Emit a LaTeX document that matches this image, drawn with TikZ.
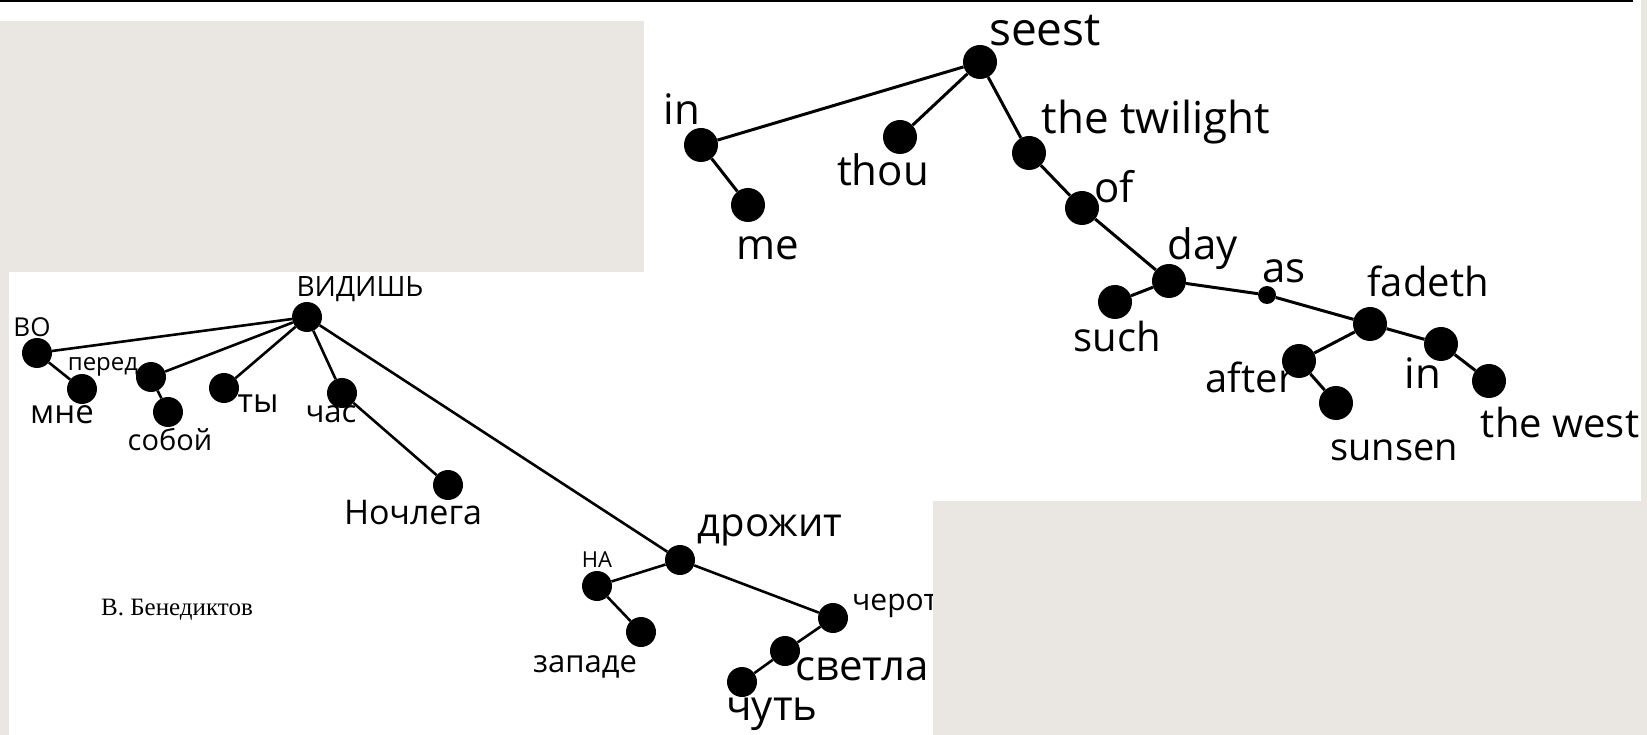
\documentclass[tikz,border=0pt]{standalone}
\usepackage{fontspec}
\setmainfont{Open Sans}
\newfontfamily\printfont{Liberation Serif}
\definecolor{paper}{RGB}{234,230,226}

\begin{document}
\begin{tikzpicture}[x=1pt, y=-1pt,
		dot/.style={circle, fill=black, inner sep=0pt, minimum size=34pt},
		rudot/.style={circle, fill=black, inner sep=0pt, minimum size=30pt},
		smalldot/.style={circle, fill=black, inner sep=0pt, minimum size=18pt},
		word/.style={inner sep=0pt, font=\fontsize{#1}{#1}\selectfont},
		word/.default=40,
		edge/.style={line width=3pt}
	]
	\useasboundingbox (0,0) rectangle (1647,735);

	% scanned page
	\fill[paper] (0,0) rectangle (1647,735);
	\fill[white] (0,0) rectangle (1641,21);
	\fill[white] (644,0) rectangle (1641,501);
	\fill[white] (9,272) rectangle (933,735);
	\draw[line width=2pt] (0,1) -- (1633,1);

	% english tree
	\node[dot] (seest) at (980,62) {};
	\node[dot] (in) at (701,145) {};
	\node[dot] (me) at (748,205) {};
	\node[dot] (thou) at (900,137) {};
	\node[dot] (twilight) at (1029,153) {};
	\node[dot] (of) at (1082,208) {};
	\node[dot] (day) at (1169,281) {};
	\node[dot] (such) at (1115,302) {};
	\node[smalldot] (as) at (1267,295) {};
	\node[dot] (fadeth) at (1370,324) {};
	\node[dot] (after) at (1299,361) {};
	\node[dot] (sunsen) at (1336,403) {};
	\node[dot] (inwest) at (1441,344) {};
	\node[dot] (west) at (1489,381) {};

	\node[word=46] (seestL) at (1045,31) {seest};
	\node[word=42] (inL) at (682,109) {in};
	\node[word=42] (meL) at (768,248) {me};
	\node[word=42] (thouL) at (883,170) {thou};
	\node[word=44] (twilightL) at (1156,122) {the twilight};
	\node[word=42] (ofL) at (1114,187) {of};
	\node[word=42] (dayL) at (1203,249) {day};
	\node[word=42] (asL) at (1284,271) {as};
	\node[word=40] (fadethL) at (1428,281) {fadeth};
	\node[word=40] (suchL) at (1117,337) {such};
	\node[word=40] (afterL) at (1250,377) {after};
	\node[word=42] (inwestL) at (1423,373) {in};
	\node[word=38] (sunsenL) at (1394,450) {sunsen};
	\node[word=40] (westL) at (1560,422) {the west};

	\foreach \i/\j in {seest/in, seest/thou, seest/twilight, in/me, twilight/of, of/day,
		day/such, day/as, as/fadeth, fadeth/after, after/sunsen, fadeth/inwest, inwest/west}
		\draw[edge] (\i) -- (\j);

	% russian tree
	\node[rudot] (vidish) at (307,317) {};
	\node[rudot] (vo) at (37,353) {};
	\node[rudot] (mne) at (82,389) {};
	\node[rudot] (pered) at (151,377) {};
	\node[rudot] (soboj) at (168,412) {};
	\node[rudot] (ty) at (224,388) {};
	\node[rudot] (chas) at (342,393) {};
	\node[rudot] (nochlega) at (448,485) {};
	\node[rudot] (drozhit) at (680,560) {};
	\node[rudot] (na) at (597,586) {};
	\node[rudot] (zapade) at (641,632) {};
	\node[rudot] (cherote) at (833,618) {};
	\node[rudot] (svetla) at (785,651) {};
	\node[rudot] (chut) at (742,682) {};

	\node[word=28] (vidishL) at (360,289) {ВИДИШЬ};
	\node[word=26] (voL) at (32,327) {ВО};
	\node[word=33] (mneL) at (62,415) {мне};
	\node[word=24] (peredL) at (103,367) {перед};
	\node[word=29] (sobojL) at (170,440) {собой};
	\node[word=33] (tyL) at (258,404) {ты};
	\node[word=31] (chasL) at (331,414) {час};
	\node[word=34] (nochlegaL) at (413,513) {Ночлега};
	\node[word=40] (drozhitL) at (770,530) {дрожит};
	\node[word=22] (naL) at (597,560) {НА};
	\node[word=31] (zapadeL) at (585,667) {западе};
	\node[word=30, anchor=west] (cheroteL) at (852,606) {чероте};
	\node[word=42, anchor=west] (svetlaL) at (795,669) {светла};
	\node[word=42] (chutL) at (772,714) {чуть};

	\node[inner sep=0pt, font=\printfont\fontsize{25}{25}\selectfont] (author) at (177,610) {В. Бенедиктов};

	\foreach \i/\j in {vidish/vo, vidish/pered, vidish/ty, vidish/chas, vidish/drozhit, vo/mne,
		pered/soboj, chas/nochlega, drozhit/na, drozhit/cherote, na/zapade, cherote/svetla, svetla/chut}
		\draw[edge, line width=2.6pt] (\i) -- (\j);

	% page edges over the cut words
	\fill[paper] (933,501) rectangle (1647,735);
	\fill[paper] (1641,0) rectangle (1647,735);
\end{tikzpicture}
\end{document}
